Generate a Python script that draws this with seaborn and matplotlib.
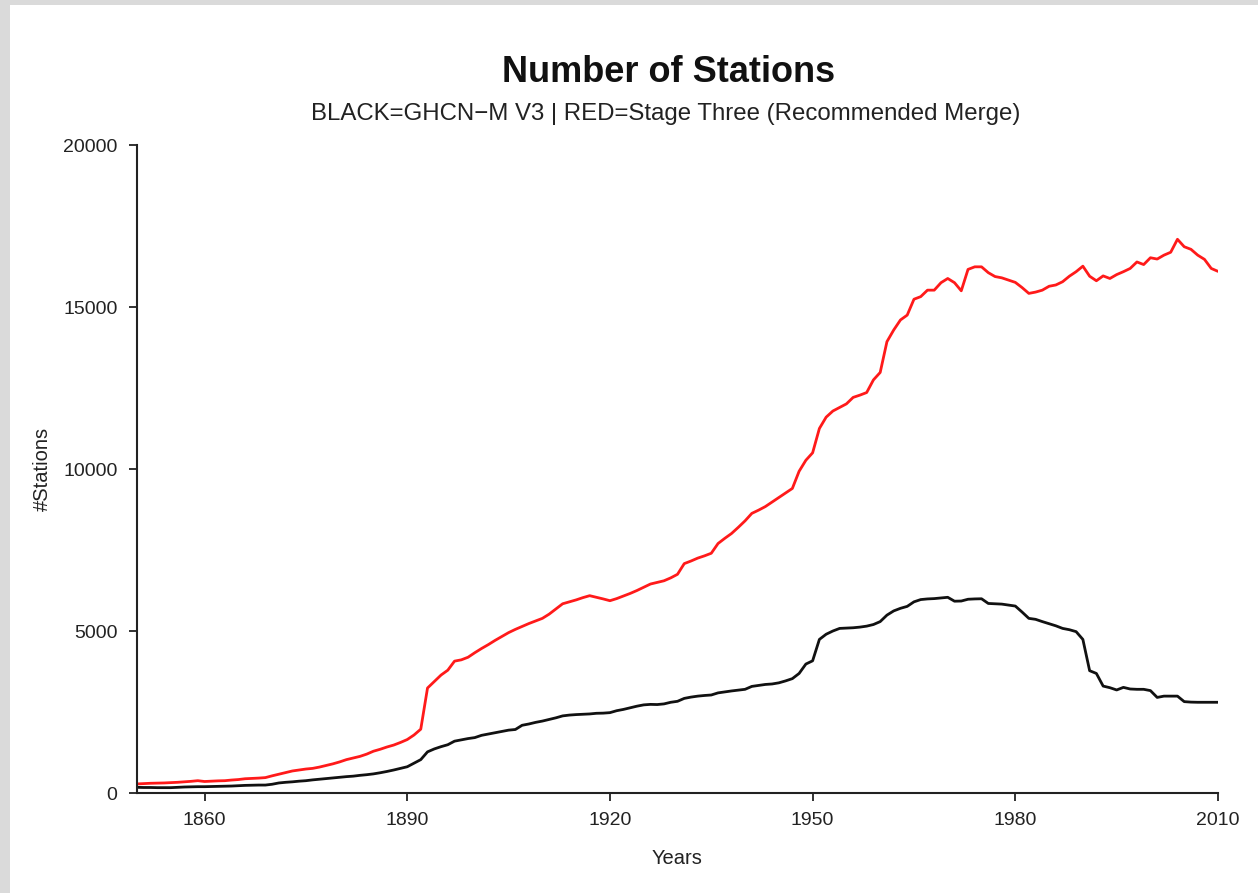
import numpy as np
import pandas as pd
import matplotlib
matplotlib.use("Agg")
import matplotlib.pyplot as plt
from matplotlib.patches import Rectangle
import seaborn as sns

# Station counts per year, 1850-2010
years = list(range(1850, 2011))

stage_three = [
    280, 290, 300, 305, 310, 320, 330, 345, 360, 380,            # 1850-1859
    355, 365, 375, 380, 400, 415, 440, 450, 460, 475,            # 1860-1869
    530, 580, 630, 680, 710, 740, 760, 800, 850, 900,            # 1870-1879
    960, 1030, 1080, 1130, 1200, 1290, 1350, 1420, 1480, 1560,   # 1880-1889
    1650, 1790, 1970, 3240, 3440, 3640, 3790, 4070, 4110, 4190,  # 1890-1899
    4330, 4460, 4580, 4710, 4830, 4950, 5050, 5140, 5230, 5310,  # 1900-1909
    5390, 5520, 5680, 5840, 5900, 5960, 6030, 6090, 6040, 5990,  # 1910-1919
    5935, 6000, 6080, 6160, 6250, 6350, 6450, 6500, 6550, 6640,  # 1920-1929
    6750, 7080, 7160, 7250, 7320, 7400, 7700, 7860, 8010, 8200,  # 1930-1939
    8400, 8630, 8730, 8840, 8980, 9120, 9260, 9400, 9930, 10270, # 1940-1949
    10500, 11250, 11600, 11790, 11900, 12010, 12210, 12280, 12360, 12750,  # 1950-1959
    12980, 13930, 14290, 14600, 14750, 15240, 15320, 15520, 15520, 15750,  # 1960-1969
    15880, 15750, 15500, 16160, 16240, 16240, 16060, 15940, 15900, 15830,  # 1970-1979
    15760, 15600, 15420, 15460, 15520, 15640, 15680, 15780, 15950, 16090,  # 1980-1989
    16260, 15950, 15810, 15960, 15880, 16000, 16090, 16190, 16390, 16310,  # 1990-1999
    16520, 16480, 16600, 16690, 17090, 16860, 16780, 16600, 16470, 16190,  # 2000-2009
    16100,                                                                  # 2010
]

ghcn_v3 = [
    175, 170, 170, 165, 165, 165, 175, 185, 190, 195,            # 1850-1859
    195, 200, 205, 210, 215, 225, 235, 240, 245, 245,            # 1860-1869
    270, 310, 330, 345, 365, 380, 405, 425, 445, 465,            # 1870-1879
    485, 505, 520, 545, 565, 590, 625, 665, 710, 760,            # 1880-1889
    810, 920, 1030, 1270, 1360, 1430, 1490, 1600, 1640, 1680,    # 1890-1899
    1710, 1780, 1820, 1860, 1900, 1940, 1960, 2090, 2130, 2180,  # 1900-1909
    2220, 2270, 2320, 2380, 2405, 2420, 2430, 2440, 2460, 2465,  # 1910-1919
    2480, 2540, 2580, 2630, 2680, 2720, 2735, 2730, 2750, 2800,  # 1920-1929
    2830, 2920, 2960, 2990, 3010, 3025, 3090, 3120, 3150, 3175,  # 1930-1939
    3200, 3290, 3320, 3350, 3365, 3400, 3460, 3530, 3690, 3980,  # 1940-1949
    4080, 4740, 4900, 5000, 5080, 5090, 5100, 5120, 5150, 5200,  # 1950-1959
    5290, 5490, 5620, 5700, 5760, 5900, 5970, 5990, 6000, 6020,  # 1960-1969
    6040, 5920, 5925, 5980, 5990, 5995, 5850, 5840, 5830, 5800,  # 1970-1979
    5770, 5585, 5390, 5360, 5290, 5225, 5160, 5080, 5040, 4980,  # 1980-1989
    4740, 3775, 3690, 3300, 3250, 3180, 3260, 3210, 3200, 3200,  # 1990-1999
    3160, 2950, 2990, 2990, 2990, 2820, 2805, 2800, 2800, 2800,  # 2000-2009
    2800,                                                        # 2010
]

x_ticks = [1860, 1890, 1920, 1950, 1980, 2010]
y_ticks = [0, 5000, 10000, 15000, 20000]

title = "Number of Stations"
subtitle = "BLACK=GHCN\u2212M V3 | RED=Stage Three (Recommended Merge)"

df = pd.DataFrame({"Years": years, "v3": ghcn_v3, "stage3": stage_three})

sns.set_theme(style="ticks")
plt.rcParams["font.family"] = ["Liberation Sans", "DejaVu Sans"]
plt.rcParams["axes.linewidth"] = 1.5
plt.rcParams["xtick.major.width"] = 1.3
plt.rcParams["ytick.major.width"] = 1.3
plt.rcParams["xtick.major.size"] = 6
plt.rcParams["ytick.major.size"] = 6
plt.rcParams["xtick.color"] = "#222222"
plt.rcParams["ytick.color"] = "#222222"

W, H = 1258, 893
fig = plt.figure(figsize=(W / 100, H / 100), dpi=100, facecolor="white")

# thin grey frame strips along the left and top edges
fig.patches.append(Rectangle((0, 0), 10 / W, 1, transform=fig.transFigure,
                             facecolor="#dadada", edgecolor="none", zorder=0))
fig.patches.append(Rectangle((0, 1 - 5 / H), 1, 5 / H, transform=fig.transFigure,
                             facecolor="#dadada", edgecolor="none", zorder=0))

ax = fig.add_axes([137 / W, 1 - 793 / H, (1218 - 137) / W, (793 - 145) / H])
ax.set_facecolor("white")

sns.lineplot(data=df, x="Years", y="stage3", ax=ax, color="#ff1a1a",
             linewidth=2.0, estimator=None)
sns.lineplot(data=df, x="Years", y="v3", ax=ax, color="#111111",
             linewidth=2.0, estimator=None)

ax.set_xlim(1850, 2010)
ax.set_ylim(0, 20000)
ax.set_xticks(x_ticks)
ax.set_yticks(y_ticks)
ax.tick_params(axis="both", labelsize=14, pad=8, colors="#222222")
for s in ("left", "bottom"):
    ax.spines[s].set_color("#222222")
sns.despine(ax=ax)

ax.set_xlabel("Years", fontsize=14.5, labelpad=14, color="#222222")
ax.set_ylabel("#Stations", fontsize=14.5, labelpad=8, color="#222222")

fig.text(669 / W, 1 - 72 / H, title, ha="center", va="center",
         fontsize=26, fontweight="bold", color="#111111")
fig.text(666 / W, 1 - 114 / H, subtitle, ha="center", va="center",
         fontsize=17.3, color="#222222")

fig.savefig("out.png", dpi=100, facecolor="white")
